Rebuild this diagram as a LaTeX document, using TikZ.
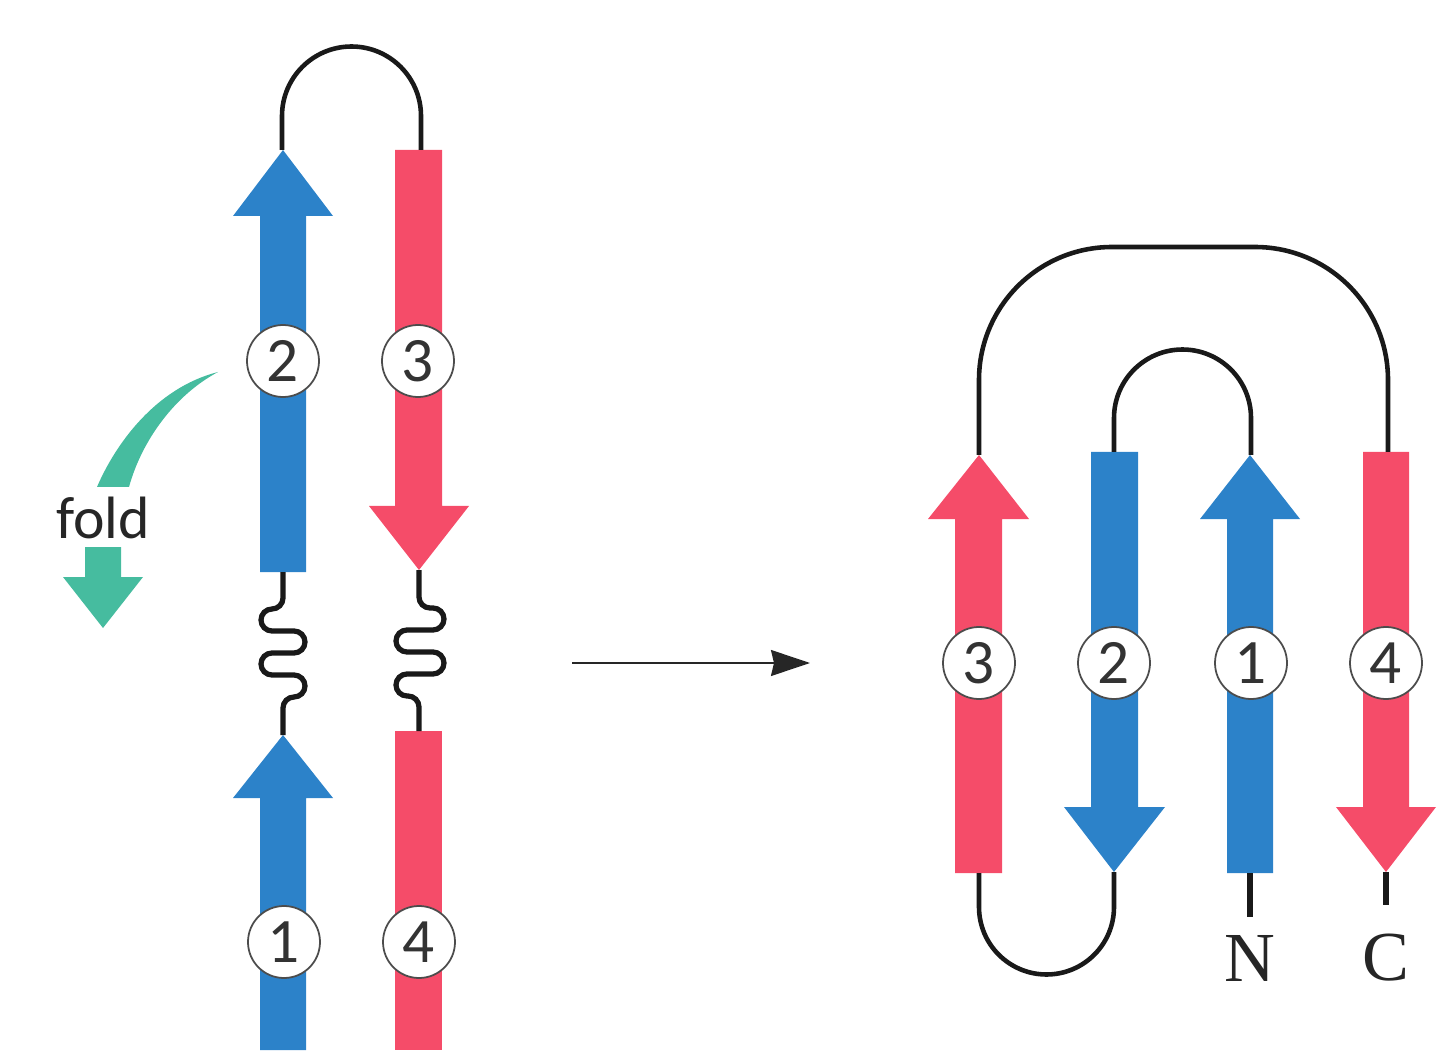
\documentclass[tikz,border=0pt]{standalone}
\usepackage{fontspec}
\newfontfamily\numfont{Carlito}
\newfontfamily\termfont{Liberation Serif}
\usetikzlibrary{arrows.meta}
\definecolor{strandblue}{HTML}{2C82C9}
\definecolor{strandred}{HTML}{F54C69}
\definecolor{foldgreen}{HTML}{46BC9F}
\tikzset{
  loopline/.style={line width=1.3pt, black!90},
  bendleft/.style={start angle=90, end angle=270, radius=0.11},
  bendright/.style={start angle=90, end angle=-90, radius=0.11},
  num/.style={draw=black!70, fill=white, circle, line width=0.5pt, inner sep=0pt, minimum size=0.72cm, text=black!80, font=\numfont\fontsize{18}{18}\selectfont},
  term/.style={text=black!85, font=\termfont\fontsize{20}{20}\selectfont}
}

\begin{document}
\begin{tikzpicture}
\useasboundingbox (0, 0) rectangle (14.4, 10.5);

% left pair
\fill[strandblue] (2.83, 9) -- (3.33, 8.34) -- (3.06, 8.34) -- (3.06, 4.78) -- (2.60, 4.78) -- (2.60, 8.34) -- (2.33, 8.34) -- cycle;
\fill[strandred] (3.95, 9) -- (4.42, 9) -- (4.42, 5.44) -- (4.69, 5.44) -- (4.19, 4.80) -- (3.69, 5.44) -- (3.95, 5.44) -- cycle;
\fill[strandblue] (2.83, 3.15) -- (3.33, 2.52) -- (3.06, 2.52) -- (3.06, 0) -- (2.60, 0) -- (2.60, 2.52) -- (2.33, 2.52) -- cycle;
\fill[strandred] (3.95, 3.19) rectangle (4.42, 0);

\coordinate (l2top) at (2.82, 9);
\coordinate (l3top) at (4.21, 9);
\coordinate (l2end) at (2.83, 4.78);
\coordinate (l3end) at (4.19, 4.80);
\coordinate (l1tip) at (2.83, 3.15);
\coordinate (l4top) at (4.19, 3.19);

\draw[loopline] (l2top) -- ++(0, 0.34) arc[start angle=180, end angle=0, radius=0.695] -- (l3top);
\draw[loopline, line width=1.5pt] (l2end) -- ++(0, -0.26) arc[start angle=0, end angle=-90, radius=0.11] arc[bendleft] -- ++(0.22, 0) arc[bendright] -- ++(-0.22, 0) arc[bendleft] -- ++(0.22, 0) arc[bendright] arc[start angle=90, end angle=180, radius=0.11] -- (l1tip);
\draw[loopline, line width=1.5pt] (l3end) -- ++(0, -0.27) arc[start angle=180, end angle=270, radius=0.11] -- ++(0.03, 0) arc[bendright] -- ++(-0.26, 0) arc[bendleft] -- ++(0.26, 0) arc[bendright] -- ++(-0.26, 0) arc[bendleft] -- ++(0.01, 0) arc[start angle=90, end angle=0, radius=0.11] -- (l4top);

\node (l2) at (2.83, 6.89) [num] {2};
\node (l3) at (4.18, 6.89) [num] {3};
\node (l1) at (2.84, 1.08) [num] {1};
\node (l4) at (4.19, 1.08) [num] {4};

% fold mark
\fill[foldgreen] (2.18, 6.78) .. controls (1.55, 6.62) and (1.15, 6.05) .. (0.97, 5.63) -- (1.29, 5.63) .. controls (1.42, 6.10) and (1.75, 6.55) .. cycle;
\node (fold) at (1.03, 5.32) [text=black!85, font=\numfont\fontsize{17}{17}\selectfont] {fold};
\fill[foldgreen] (0.85, 5.03) -- (1.21, 5.03) -- (1.21, 4.73) -- (1.43, 4.73) -- (1.03, 4.22) -- (0.63, 4.73) -- (0.85, 4.73) -- cycle;

% middle arrow
\coordinate (from) at (5.72, 3.87);
\coordinate (to) at (8.10, 3.87);
\draw[-{Stealth[length=0.39cm, width=0.26cm, inset=0.03cm]}, line width=0.5pt, black!85] (from) -- (to);

% right sheet
\fill[strandred] (9.79, 5.95) -- (10.29, 5.31) -- (10.02, 5.31) -- (10.02, 1.77) -- (9.55, 1.77) -- (9.55, 5.31) -- (9.28, 5.31) -- cycle;
\fill[strandblue] (10.91, 5.98) -- (11.38, 5.98) -- (11.38, 2.43) -- (11.65, 2.43) -- (11.14, 1.78) -- (10.64, 2.43) -- (10.91, 2.43) -- cycle;
\fill[strandblue] (12.50, 5.95) -- (13.00, 5.31) -- (12.73, 5.31) -- (12.73, 1.77) -- (12.27, 1.77) -- (12.27, 5.31) -- (12.00, 5.31) -- cycle;
\fill[strandred] (13.63, 5.98) -- (14.09, 5.98) -- (14.09, 2.43) -- (14.36, 2.43) -- (13.86, 1.78) -- (13.36, 2.43) -- (13.63, 2.43) -- cycle;

\coordinate (r3tip) at (9.79, 5.95);
\coordinate (r3end) at (9.79, 1.77);
\coordinate (r2top) at (11.14, 5.98);
\coordinate (r2tip) at (11.14, 1.78);
\coordinate (r1tip) at (12.51, 5.95);
\coordinate (r1end) at (12.50, 1.77);
\coordinate (r4top) at (13.88, 5.98);
\coordinate (r4tip) at (13.86, 1.78);

\draw[loopline] (r3tip) -- (9.79, 6.70) arc[start angle=180, end angle=90, radius=1.33] -- (12.55, 8.03) arc[start angle=90, end angle=0, radius=1.33] -- (r4top);
\draw[loopline] (r2top) -- (11.14, 6.32) arc[start angle=180, end angle=0, radius=0.685] -- (r1tip);
\draw[loopline] (r3end) -- (9.79, 1.43) arc[start angle=180, end angle=360, radius=0.675] -- (r2tip);

\node (r3) at (9.79, 3.87) [num] {3};
\node (r2) at (11.14, 3.87) [num] {2};
\node (r1) at (12.51, 3.87) [num] {1};
\node (r4) at (13.86, 3.87) [num] {4};

\node (n) at (12.50, 0.92) [term] {N};
\node (c) at (13.86, 0.92) [term] {C};
\draw[loopline, line width=1.5pt] (r1end) -- (12.50, 1.33);
\draw[loopline, line width=1.5pt] (r4tip) -- (13.86, 1.45);
\end{tikzpicture}
\end{document}
